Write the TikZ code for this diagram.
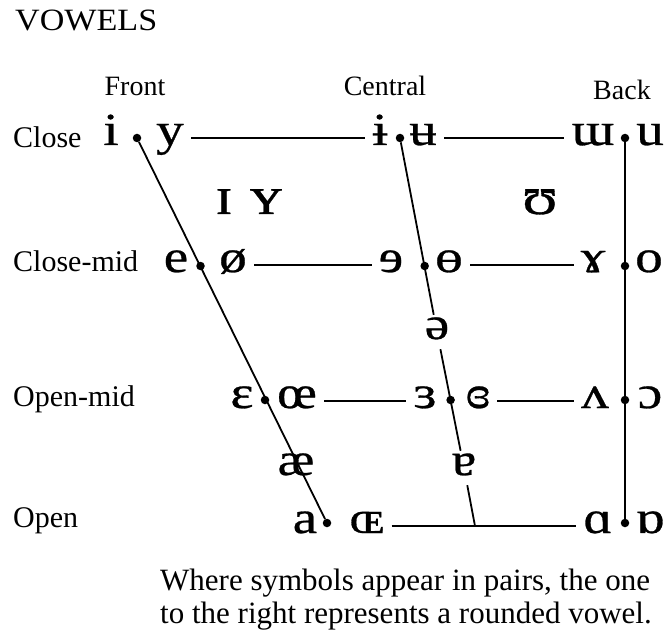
\documentclass[tikz,border=0pt]{standalone}
\usepackage{fontspec}
\setmainfont{Liberation Serif}
\newfontfamily\ipafont{Liberation Serif}[FakeStretch=1.2, FakeBold=0.6]
\newfontfamily\headfont{Liberation Serif}[FakeStretch=1.1]
\usetikzlibrary{positioning}

\tikzset{
  ipa/.style={font=\ipafont\fontsize{46}{46}\selectfont, inner xsep=7pt, inner ysep=0pt,
    text height=24pt, text depth=10pt},
  ipabig/.style={ipa, font=\ipafont\fontsize{54}{54}\selectfont},
  vdot/.style={circle, fill=black, inner sep=0pt, minimum size=8.5pt},
  rowlbl/.style={font=\fontsize{30}{30}\selectfont, anchor=base west, inner sep=0pt},
  collbl/.style={font=\fontsize{28}{28}\selectfont, anchor=base, inner sep=0pt},
  note/.style={font=\fontsize{31}{31}\selectfont, anchor=base west, inner sep=0pt},
  chart/.style={line width=1.8pt}
}

\begin{document}
\begin{tikzpicture}[x=1pt,y=-1pt]
\useasboundingbox (0,0) rectangle (664,631);
\node[font=\headfont\fontsize{31}{31}\selectfont, anchor=base west, inner sep=0pt] (title) at (15,31) {VOWELS};
% column and row labels
\node[collbl] (front) at (135,96) {Front};
\node[collbl] (central) at (385,96) {Central};
\node[collbl] (back) at (622,100) {Back};
\node[rowlbl] (close) at (13,148) {Close};
\node[rowlbl] (closemid) at (13,272) {Close-mid};
\node[rowlbl] (openmid) at (13,406) {Open-mid};
\node[rowlbl] (open) at (13,527) {Open};
% dots
\node[vdot] (fc) at (137,138) {};
\node[vdot] (fcm) at (200.5,266) {};
\node[vdot] (fom) at (265,400) {};
\node[vdot] (fo) at (327,523) {};
\node[vdot] (cc) at (400,138) {};
\node[vdot] (ccm) at (424.7,266) {};
\node[vdot] (com) at (450.6,400) {};
\coordinate (co) at (475,526);
\node[vdot] (bc) at (625,138) {};
\node[vdot] (bcm) at (625,266) {};
\node[vdot] (bom) at (625,400) {};
\node[vdot] (bo) at (625,523) {};
% close
\node[ipa] (i) at (111,138) {i};
\node[ipa] (y) at (170,138) {y};
\node[ipa] (ibar) at (380,138) {ɨ};
\node[ipa] (ubar) at (423,138) {ʉ};
\node[ipa] (turnm) at (593,138) {ɯ};
\node[ipa] (u) at (650,138) {u};
% close-mid
\node[ipa] (e) at (176,265) {e};
\node[ipa] (oslash) at (233,265) {ø};
\node[ipa] (reve) at (391,265) {ɘ};
\node[ipa] (baro) at (449,265) {ɵ};
\node[ipa] (ramsh) at (593,265) {ɤ};
\node[ipa] (o) at (649,265) {o};
% open-mid
\node[ipa] (eps) at (242,401) {ɛ};
\node[ipa] (oe) at (297,401) {œ};
\node[ipa] (reveps) at (425,401) {ɜ};
\node[ipa] (clreveps) at (478,401) {ɞ};
\node[ipa] (turnv) at (595,401) {ʌ};
\node[ipa] (openo) at (650,401) {ɔ};
% open
\node[ipa] (a) at (305,526) {a};
\node[ipa] (OE) at (367,526) {ɶ};
\node[ipa] (scripta) at (598,526) {ɑ};
\node[ipa] (turnscripta) at (650,526) {ɒ};
% in between
\node[ipabig] (smallI) at (224,207) {ɪ};
\node[ipabig] (smallY) at (266,207) {ʏ};
\node[ipabig] (upsilon) at (540,207) {ʊ};
\node[ipa] (schwa) at (437,332) {ə};
\node[ipa] (ae) at (296,468) {æ};
\node[ipa] (turna) at (464,468) {ɐ};

\draw[chart] (fc) -- (fo);
\draw[chart] (cc) -- (schwa) -- (turna) -- (co);
\draw[chart] (bc) -- (bo);
\draw[chart] (y) -- (ibar);
\draw[chart] (ubar) -- (turnm);
\draw[chart] (oslash) -- (reve);
\draw[chart] (baro) -- (ramsh);
\draw[chart] (oe) -- (reveps);
\draw[chart] (clreveps) -- (turnv);
\draw[chart] (OE) -- (scripta);

\node[note] (note1) at (160,590) {Where symbols appear in pairs, the one};
\node[note] (note2) at (160,623) {to the right represents a rounded vowel.};
\end{tikzpicture}
\end{document}
